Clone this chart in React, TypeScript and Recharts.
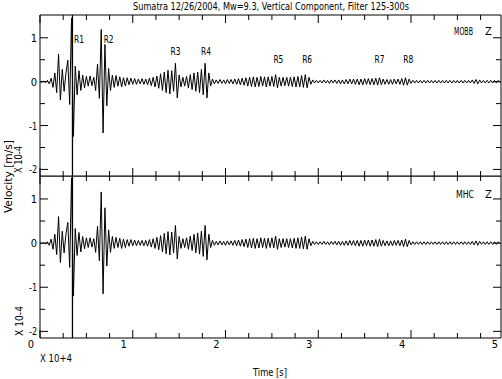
import {
  Line,
  LineChart,
  ReferenceArea,
  ReferenceDot,
  ReferenceLine,
  XAxis,
  YAxis,
} from "recharts";

// time axis in units of 10^4 s, velocity in units of 10^-4 m/s
const SAMPLE_STEP = 0.02;
const T_MAX = 4.97;
const Y_MIN = -2.15;
const Y_MAX = 1.52;
const MARKER_TIME = 0.35;

const mobb = [
  0, -0.01, 0.01, -0.02, 0.03, -0.05, 0.08, -0.13, 0.2, -0.25,
  0.63, -0.42, 0.28, -0.22, 0.2, 0.49, -0.52, 1.45, -1.25, 0.35,
  -0.3, 0.25, -0.2, 0.15, -0.14, 0.12, -0.1, 0.13, -0.09, 0.1,
  -0.2, 0.4, -0.38, 1.19, -1.17, 0.85, -0.55, 0.3, -0.2, 0.15,
  -0.13, 0.14, -0.1, 0.11, -0.12, 0.09, -0.1, 0.09, -0.07, 0.08,
  -0.06, 0.07, -0.06, 0.06, -0.05, 0.07, -0.06, 0.06, -0.07, 0.08,
  -0.09, 0.1, -0.12, 0.13, -0.15, 0.18, -0.2, 0.22, -0.25, 0.26,
  -0.28, 0.25, -0.22, 0.42, -0.37, 0.15, -0.12, 0.1, -0.1, 0.12,
  -0.14, 0.16, -0.18, 0.2, -0.22, 0.22, -0.25, 0.28, -0.3, 0.42,
  -0.37, 0.2, -0.1, 0.06, -0.05, 0.04, -0.04, 0.05, -0.04, 0.04,
  -0.05, 0.05, -0.04, 0.05, -0.05, 0.06, -0.06, 0.07, -0.07, 0.08,
  -0.08, 0.09, -0.1, 0.1, -0.11, 0.11, -0.12, 0.1, -0.11, 0.12,
  -0.1, 0.11, -0.12, 0.11, -0.1, 0.12, -0.11, 0.16, -0.14, 0.1,
  -0.1, 0.1, -0.09, 0.1, -0.1, 0.1, -0.11, 0.11, -0.12, 0.12,
  -0.12, 0.14, -0.13, 0.16, -0.14, 0.1, -0.06, 0.04, -0.03, 0.03,
  -0.03, 0.03, -0.03, 0.04, -0.03, 0.03, -0.04, 0.04, -0.03, 0.04,
  -0.04, 0.04, -0.05, 0.04, -0.05, 0.05, -0.05, 0.06, -0.05, 0.06,
  -0.06, 0.06, -0.07, 0.06, -0.07, 0.07, -0.06, 0.07, -0.07, 0.07,
  -0.07, 0.08, -0.08, 0.09, -0.07, 0.06, -0.06, 0.05, -0.06, 0.05,
  -0.06, 0.06, -0.05, 0.06, -0.06, 0.07, -0.08, 0.09, -0.08, 0.06,
  -0.04, 0.03, -0.03, 0.03, -0.03, 0.03, -0.03, 0.03, -0.03, 0.03,
  -0.03, 0.03, -0.03, 0.03, -0.03, 0.03, -0.03, 0.03, -0.03, 0.03,
  -0.03, 0.03, -0.03, 0.03, -0.03, 0.03, -0.03, 0.03, -0.03, 0.03,
  -0.03, 0.03, -0.03, 0.04, -0.04, 0.05, -0.05, 0.04, -0.03, 0.03,
  -0.03, 0.03, -0.03, 0.03, -0.03, 0.03, -0.03, 0.03, -0.02,
];

const mhc = [
  0, -0.01, 0.01, -0.02, 0.03, -0.05, 0.09, -0.14, 0.2, -0.26,
  0.6, -0.44, 0.27, -0.22, 0.21, 0.47, -0.55, 1.48, -1.2, 0.33,
  -0.28, 0.24, -0.2, 0.15, -0.13, 0.12, -0.1, 0.12, -0.09, 0.1,
  -0.21, 0.38, -0.4, 1.16, -1.15, 0.8, -0.52, 0.3, -0.21, 0.15,
  -0.12, 0.13, -0.1, 0.11, -0.12, 0.09, -0.1, 0.08, -0.07, 0.08,
  -0.06, 0.07, -0.06, 0.06, -0.05, 0.06, -0.06, 0.06, -0.07, 0.08,
  -0.09, 0.1, -0.12, 0.13, -0.15, 0.17, -0.2, 0.22, -0.24, 0.26,
  -0.27, 0.25, -0.22, 0.4, -0.36, 0.15, -0.12, 0.1, -0.1, 0.12,
  -0.14, 0.16, -0.17, 0.2, -0.22, 0.23, -0.25, 0.27, -0.3, 0.4,
  -0.38, 0.2, -0.1, 0.06, -0.05, 0.04, -0.04, 0.05, -0.04, 0.04,
  -0.05, 0.05, -0.04, 0.05, -0.05, 0.06, -0.06, 0.07, -0.07, 0.08,
  -0.08, 0.09, -0.1, 0.1, -0.11, 0.11, -0.12, 0.1, -0.11, 0.12,
  -0.1, 0.11, -0.12, 0.11, -0.1, 0.12, -0.11, 0.16, -0.14, 0.1,
  -0.1, 0.1, -0.09, 0.1, -0.1, 0.1, -0.11, 0.11, -0.12, 0.12,
  -0.12, 0.14, -0.13, 0.16, -0.14, 0.1, -0.06, 0.04, -0.03, 0.03,
  -0.03, 0.03, -0.03, 0.04, -0.03, 0.03, -0.04, 0.04, -0.03, 0.04,
  -0.04, 0.04, -0.05, 0.04, -0.05, 0.05, -0.05, 0.06, -0.05, 0.06,
  -0.06, 0.06, -0.07, 0.06, -0.07, 0.07, -0.06, 0.07, -0.07, 0.07,
  -0.07, 0.08, -0.08, 0.09, -0.07, 0.06, -0.06, 0.05, -0.06, 0.05,
  -0.06, 0.06, -0.05, 0.06, -0.06, 0.07, -0.08, 0.09, -0.08, 0.06,
  -0.04, 0.03, -0.03, 0.03, -0.03, 0.03, -0.03, 0.03, -0.03, 0.03,
  -0.03, 0.03, -0.03, 0.03, -0.03, 0.03, -0.03, 0.03, -0.03, 0.03,
  -0.03, 0.03, -0.03, 0.03, -0.03, 0.03, -0.03, 0.03, -0.03, 0.03,
  -0.03, 0.03, -0.03, 0.04, -0.04, 0.05, -0.05, 0.04, -0.03, 0.03,
  -0.03, 0.03, -0.03, 0.03, -0.03, 0.03, -0.03, 0.03, -0.02,
];

const xTicks = [
  0, 0.25, 0.5, 0.75, 1, 1.25, 1.5, 1.75, 2, 2.25, 2.5, 2.75, 3, 3.25, 3.5,
  3.75, 4, 4.25, 4.5, 4.75, 5,
];
const yTicks = [-2, -1.5, -1, -0.5, 0, 0.5, 1];

const phaseNames = ["R1", "R2", "R3", "R4", "R5", "R6", "R7", "R8"];
const phaseTimes = [0.42, 0.74, 1.46, 1.79, 2.57, 2.88, 3.66, 3.97];
const phaseLevels = [0.88, 0.88, 0.61, 0.61, 0.42, 0.42, 0.42, 0.42];

const FONT = '"Liberation Sans Narrow", "DejaVu Sans Condensed", sans-serif';
const FS = 11;
const WIDTH = 502;
const PLOT_W = 461;
const fit = { lengthAdjust: "spacingAndGlyphs" as const };

const XTick = ({ x, y, payload, plotH, showLabels }: any) => {
  const major = Number.isInteger(payload.value);
  const len = major ? 8 : 5;
  return (
    <g>
      <line x1={x} x2={x} y1={y} y2={y - len} stroke="#000" />
      <line x1={x} x2={x} y1={y - plotH} y2={y - plotH + len} stroke="#000" />
      {showLabels && major && (
        <text x={x - 9} y={y + 10} textAnchor="middle" fontFamily={FONT} fontSize={FS} fill="#000">
          {payload.value}
        </text>
      )}
    </g>
  );
};

const YTick = ({ x, y, payload }: any) => {
  const major = Number.isInteger(payload.value);
  const len = major ? 8 : 5;
  const v = payload.value;
  return (
    <g>
      <line x1={x} x2={x + len} y1={y} y2={y} stroke="#000" />
      <line x1={x + PLOT_W} x2={x + PLOT_W - len} y1={y} y2={y} stroke="#000" />
      {major && (
        <text
          x={x - 3}
          y={y + 4}
          textAnchor="end"
          fontFamily={FONT}
          fontSize={FS}
          fill="#000"
          {...(v < 0 ? { textLength: 8, ...fit } : {})}
        >
          {v < 0 ? `-${Math.abs(v)}` : v}
        </text>
      )}
    </g>
  );
};

const Panel = ({ values, height, axisH, plotH, showXLabels, showPhases }: any) => {
  const data = values.map((v: number, i: number) => ({ t: +(i * SAMPLE_STEP).toFixed(2), v }));
  return (
    <LineChart
      width={WIDTH}
      height={height}
      data={data}
      margin={{ top: height - axisH - plotH, right: 1, bottom: 0, left: 0 }}
    >
      <XAxis
        dataKey="t"
        type="number"
        domain={[0, T_MAX]}
        allowDataOverflow
        ticks={xTicks}
        interval={0}
        height={axisH}
        tickSize={0}
        tickMargin={0}
        axisLine={false}
        tickLine={false}
        tick={(p: any) => <XTick {...p} plotH={plotH} showLabels={showXLabels} />}
      />
      <YAxis
        type="number"
        domain={[Y_MIN, Y_MAX]}
        allowDataOverflow
        ticks={yTicks}
        interval={0}
        width={40}
        tickSize={0}
        tickMargin={0}
        axisLine={false}
        tickLine={false}
        tick={(p: any) => <YTick {...p} />}
      />
      <ReferenceArea
        x1={0}
        x2={T_MAX}
        y1={Y_MIN}
        y2={Y_MAX}
        fill="none"
        stroke="#000"
        strokeWidth={1}
        fillOpacity={0}
        strokeOpacity={1}
      />
      <ReferenceLine x={MARKER_TIME} stroke="#000" strokeWidth={1.3} />
      <Line
        dataKey="v"
        type="linear"
        stroke="#000"
        strokeWidth={1}
        dot={false}
        activeDot={false}
        isAnimationActive={false}
      />
      {showPhases &&
        phaseNames.map((name, i) => (
          <ReferenceDot
            key={name}
            x={phaseTimes[i]}
            y={phaseLevels[i]}
            r={0}
            shape={(p: any) => (
              <text
                x={p.cx}
                y={p.cy}
                textAnchor="middle"
                fontFamily={FONT}
                fontSize={FS}
                fill="#000"
                textLength={10}
                {...fit}
              >
                {name}
              </text>
            )}
          />
        ))}
    </LineChart>
  );
};

export default function App() {
  const txt = { fontFamily: FONT, fontSize: FS, fill: "#000", ...fit };
  return (
    <div style={{ position: "absolute", left: 0, top: 0, width: WIDTH, height: 379, background: "#fff" }}>
      <div style={{ position: "absolute", left: 0, top: 0 }}>
        <Panel values={mobb} height={196} axisH={20} plotH={161} showXLabels={false} showPhases />
      </div>
      <div style={{ position: "absolute", left: 0, top: 176 }}>
        <Panel values={mhc} height={203} axisH={41} plotH={162} showXLabels showPhases={false} />
      </div>
      <svg
        width={WIDTH}
        height={379}
        style={{ position: "absolute", left: 0, top: 0, pointerEvents: "none" }}
      >
        <text x={133} y={10} textLength={276} {...txt}>
          Sumatra 12/26/2004, Mw=9.3, Vertical Component, Filter 125-300s
        </text>
        <text x={454} y={35} textLength={19} {...txt}>MOBB</text>
        <text x={485} y={35} {...txt}>Z</text>
        <text x={456} y={198} textLength={18} {...txt}>MHC</text>
        <text x={485} y={198} {...txt}>Z</text>
        <text transform="translate(12,140) rotate(-90)" x={-73} textLength={73} {...txt}>
          Velocity [m/s]
        </text>
        <text transform="translate(22,173) rotate(-90)" textLength={27} {...txt}>
          X 10-4
        </text>
        <text transform="translate(23,336) rotate(-90)" textLength={30} {...txt}>
          X 10-4
        </text>
        <text x={40} y={362} textLength={32} {...txt}>
          X 10+4
        </text>
        <text x={253} y={376} textLength={34} {...txt}>
          Time [s]
        </text>
      </svg>
    </div>
  );
}
